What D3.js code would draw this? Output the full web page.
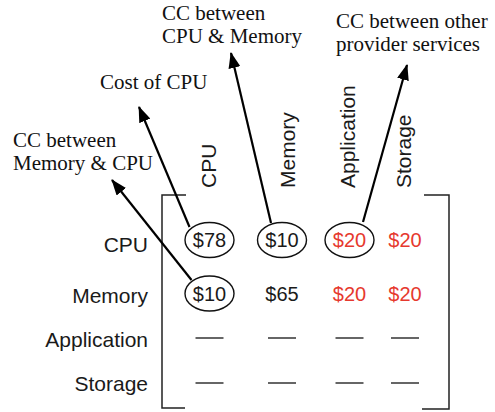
<!DOCTYPE html>
<html>
<head>
<meta charset="utf-8">
<script src="https://cdn.jsdelivr.net/npm/d3@7"></script>
<style>
  html, body { margin: 0; padding: 0; background: #fff; }
  svg { display: block; }
</style>
</head>
<body>
<svg id="chart" width="495" height="412"></svg>
<script>
// ---------------- data ----------------
const rowNames = ["CPU", "Memory", "Application", "Storage"];
const colNames = ["CPU", "Memory", "Application", "Storage"];
const cpuRow = [78, 10, 20, 20];
const memoryRow = [10, 65, 20, 20];
const applicationRow = [null, null, null, null];
const storageRow = [null, null, null, null];
const otherProviderCols = ["Application", "Storage"];
const annotationTexts = [
  ["Cost of CPU"],
  ["CC between", "Memory & CPU"],
  ["CC between", "CPU & Memory"],
  ["CC between other", "provider services"]
];
const annotationCells = [["CPU", "CPU"], ["Memory", "CPU"], ["CPU", "Memory"], ["CPU", "Application"]];

// ---------------- layout ----------------
const svg = d3.select("#chart");
const matrix = [cpuRow, memoryRow, applicationRow, storageRow];

const x = d3.scaleOrdinal().domain(colNames).range([209.5, 282, 349.5, 405]);
const y = d3.scaleOrdinal().domain(rowNames).range([240, 293.5, 338, 383]);
const rowLabelY = d3.scaleOrdinal().domain(rowNames).range([252, 303, 347, 391]);
const headerX = d3.scaleOrdinal().domain(colNames).range([208, 287, 347, 403]);

const black = "#1a1a1a";
const red = "#e6392e";
const sans = "'Liberation Sans', Arial, Helvetica, sans-serif";
const serif = "'Liberation Serif', 'Times New Roman', Times, serif";

// arrow marker
svg.append("defs").append("marker")
  .attr("id", "arrow")
  .attr("markerUnits", "userSpaceOnUse")
  .attr("viewBox", "0 0 16 12")
  .attr("refX", 15).attr("refY", 6)
  .attr("markerWidth", 16).attr("markerHeight", 12)
  .attr("orient", "auto")
  .append("path")
  .attr("d", "M0,0 L16,6 L0,12 Z")
  .attr("fill", "#000");

// brackets
const bracket = svg.append("g").attr("fill", "none").attr("stroke", "#222").attr("stroke-width", 1.5);
bracket.append("path").attr("d", "M186,195 H162 V408 H185");
bracket.append("path").attr("d", "M424,195 H449 V409 H422");

// row labels
svg.append("g").selectAll("text").data(rowNames).join("text")
  .attr("x", 148)
  .attr("y", d => rowLabelY(d))
  .attr("text-anchor", "end")
  .attr("font-family", sans)
  .attr("font-size", 21)
  .attr("fill", black)
  .text(d => d);

// column headers (rotated)
svg.append("g").selectAll("text").data(colNames).join("text")
  .attr("transform", d => `translate(${headerX(d) + 7.5},188) rotate(-90)`)
  .attr("text-anchor", "start")
  .attr("font-family", sans)
  .attr("font-size", 21)
  .attr("fill", black)
  .text(d => d);

// cells
const cells = [];
rowNames.forEach((r, i) => colNames.forEach((c, j) => cells.push({ row: r, col: c, value: matrix[i][j] })));

const cellG = svg.append("g");
cellG.selectAll("text").data(cells.filter(d => d.value !== null)).join("text")
  .attr("x", d => x(d.col))
  .attr("y", d => y(d.row) + 7)
  .attr("text-anchor", "middle")
  .attr("font-family", sans)
  .attr("font-size", 20)
  .attr("fill", d => otherProviderCols.includes(d.col) ? red : black)
  .text(d => "$" + d.value);

cellG.selectAll("line").data(cells.filter(d => d.value === null)).join("line")
  .attr("x1", d => x(d.col) - 14)
  .attr("x2", d => x(d.col) + 14)
  .attr("y1", d => y(d.row))
  .attr("y2", d => y(d.row))
  .attr("stroke", "#333")
  .attr("stroke-width", 1.5);

// circled cells
cellG.selectAll("ellipse").data(annotationCells).join("ellipse")
  .attr("cx", d => x(d[1]))
  .attr("cy", d => y(d[0]))
  .attr("rx", 24.5)
  .attr("ry", 17.5)
  .attr("fill", "none")
  .attr("stroke", "#111")
  .attr("stroke-width", 1.4);

// annotations: arrow start offset from cell centre, arrow tip, text anchor + baselines
const annLayout = [
  { start: [-20, -13], tip: [139, 107], tx: 100, ty: [89] },
  { start: [-18, -13.5], tip: [112, 180], tx: 13, ty: [147, 170] },
  { start: [-11, -17], tip: [231, 53], tx: 162, ty: [20, 43] },
  { start: [13.5, -18], tip: [407, 65], tx: 336, ty: [28, 51] }
];

const annG = svg.append("g");
annotationCells.forEach((cell, i) => {
  const L = annLayout[i];
  const cx = x(cell[1]), cy = y(cell[0]);
  annG.append("line")
    .attr("x1", cx + L.start[0]).attr("y1", cy + L.start[1])
    .attr("x2", L.tip[0]).attr("y2", L.tip[1])
    .attr("stroke", "#000")
    .attr("stroke-width", 2.2)
    .attr("marker-end", "url(#arrow)");
  annG.append("g").selectAll("text").data(annotationTexts[i]).join("text")
    .attr("x", L.tx)
    .attr("y", (d, k) => L.ty[k])
    .attr("font-family", serif)
    .attr("font-size", 21)
    .attr("fill", "#111")
    .text(d => d);
});
</script>
</body>
</html>
